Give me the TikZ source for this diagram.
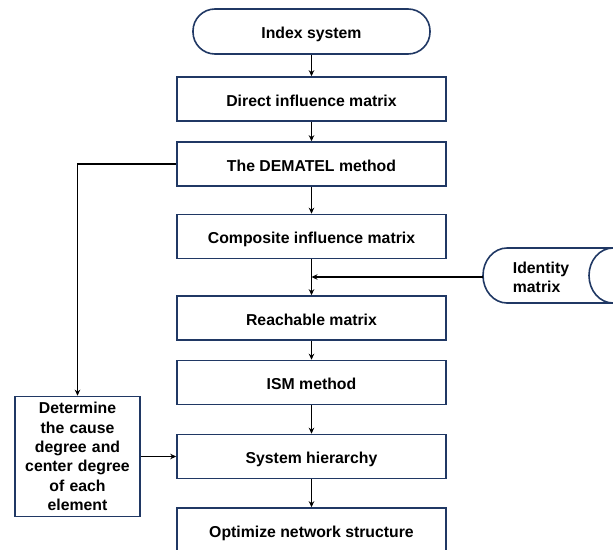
\documentclass[tikz,border=0pt]{standalone}
\usepackage{fontspec}
\setmainfont{Liberation Sans}
\usetikzlibrary{arrows.meta}
\definecolor{navy}{RGB}{32,56,100}
\begin{document}
\begin{tikzpicture}[x=1pt,y=-1pt,
  txt/.style={font=\bfseries\fontsize{15.8}{19.3}\selectfont,text=black},
  box/.style={txt,draw=navy,line width=1.6pt,minimum width=269pt,minimum height=44pt,inner sep=0pt,fill=white,text height=14pt,text depth=0pt},
  arr/.style={line width=1.5pt,-{Stealth[length=6pt,width=5.5pt]}}]
\useasboundingbox (0,0) rectangle (613,549);
\node[box,minimum width=237pt,minimum height=45pt,rounded corners=22pt] (idx) at (311.5,31.5) {Index system};
\node[box] (dim) at (311.5,99) {Direct influence matrix};
\node[box] (dem) at (311.5,164) {The DEMATEL method};
\node[box] (com) at (311.5,236.5) {Composite influence matrix};
\node[box] (rea) at (311.5,318) {Reachable matrix};
\node[box] (ism) at (311.5,382.5) {ISM method};
\node[box] (sys) at (311.5,456.5) {System hierarchy};
\node[box] (opt) at (311.5,530) {Optimize network structure};
\node[box,minimum width=125pt,minimum height=120pt,text width=118pt,align=center,text height=,text depth=] (det) at (77.5,456.5) {Determine\\the cause\\degree and\\center degree\\of each\\element};
% identity matrix (horizontal cylinder)
\draw[navy,line width=1.6pt] (613,248) -- (507,248) arc[start angle=270,end angle=90,x radius=24,y radius=27.5] -- (613,303);
\draw[navy,line width=1.6pt] (613,248) arc[start angle=270,end angle=90,x radius=24,y radius=27.5];
\node[txt,align=left] (idm) at (541,277.5) {Identity\\matrix};
\coordinate (idl) at (483,277);
\coordinate (j) at (311.5,277);
% connectors
\draw[arr] (idx) -- (dim);
\draw[arr] (dim) -- (dem);
\draw[arr] (dem) -- (com);
\draw[arr] (com) -- (rea);
\draw[arr] (rea) -- (ism);
\draw[arr] (ism) -- (sys);
\draw[arr] (sys) -- (opt);
\draw[arr] (idl) -- (j);
\draw[arr] (dem.west) -| (det.north);
\draw[arr] (det.east) -- (sys.west);
\end{tikzpicture}
\end{document}
